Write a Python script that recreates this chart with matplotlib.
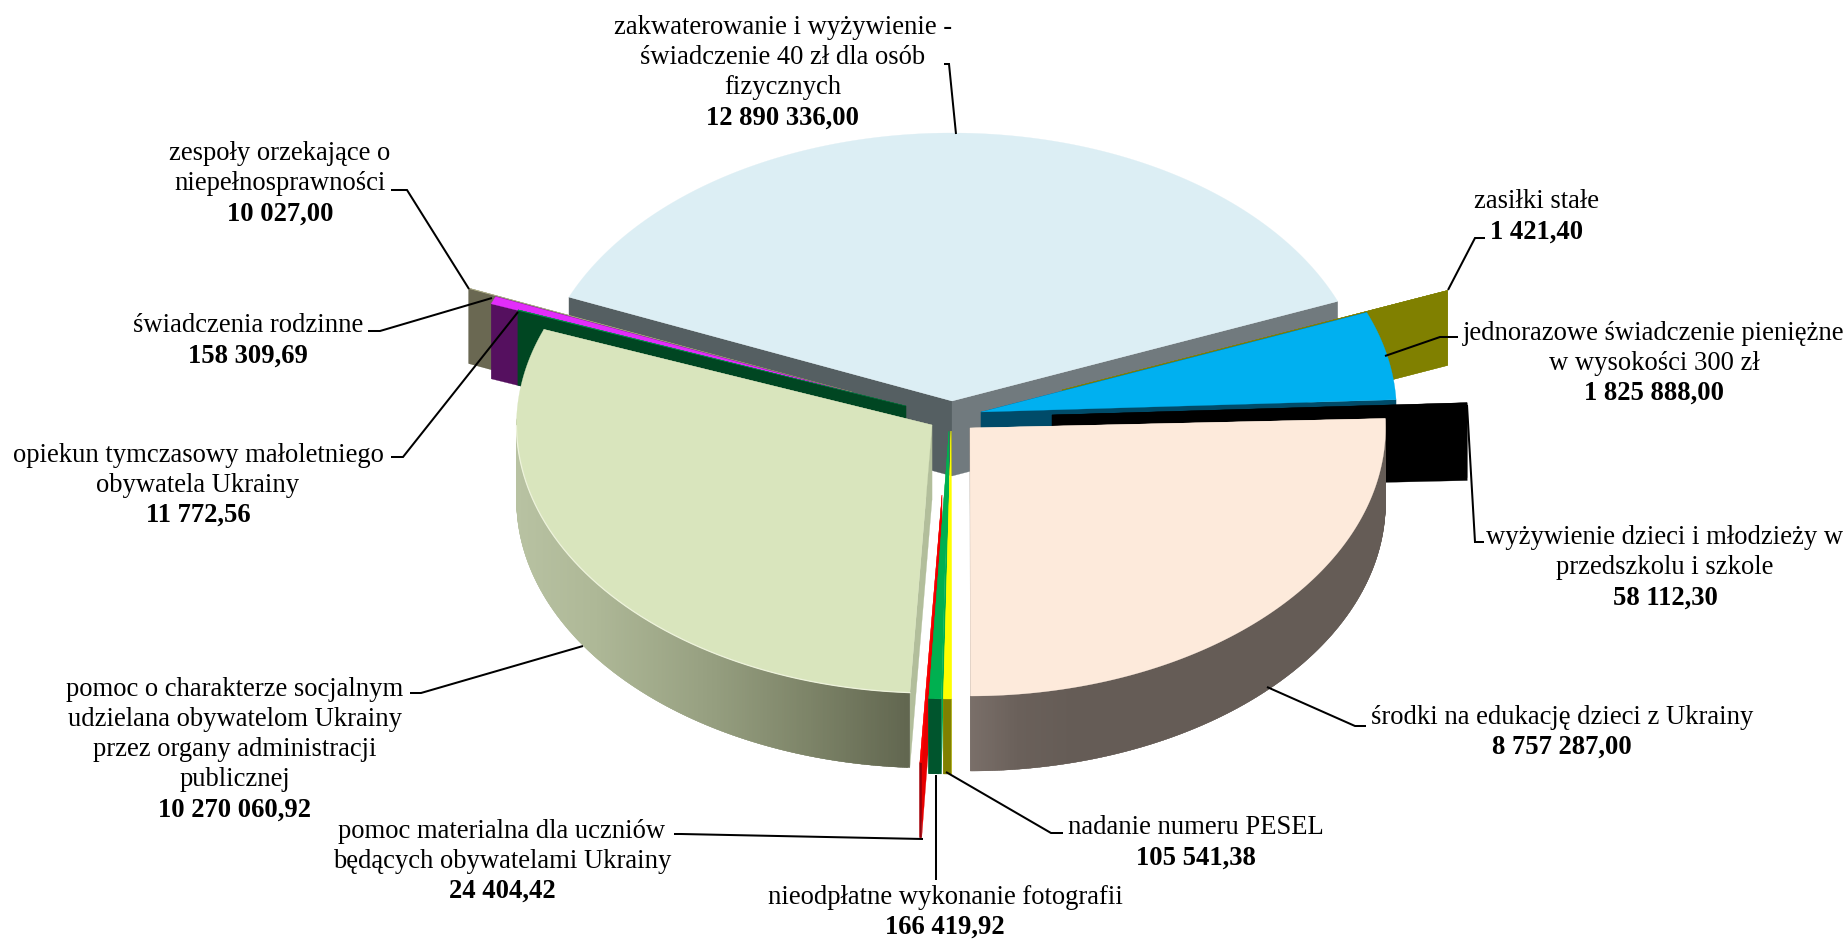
import numpy as np
import matplotlib
matplotlib.use("Agg")
import matplotlib.pyplot as plt
from matplotlib.patches import Polygon
from matplotlib.colors import LinearSegmentedColormap

plt.rcParams['font.family'] = ['Liberation Serif', 'DejaVu Serif']

# ---------- data ----------
categories = [
    "zakwaterowanie", "zasilki", "jednorazowe", "wyzywienie", "srodki", "pesel",
    "fotografie", "materialna", "socjalna", "opiekun", "rodzinne", "zespoly",
]
values = [
    12890336.00, 1421.40, 1825888.00, 58112.30, 8757287.00, 105541.38,
    166419.92, 24404.42, 10270060.92, 11772.56, 158309.69, 10027.00,
]
label_lines = [
    ["zakwaterowanie i wyżywienie -", "świadczenie 40 zł dla osób", "fizycznych"],
    ["zasiłki stałe"],
    ["jednorazowe świadczenie pieniężne", "w wysokości 300 zł"],
    ["wyżywienie dzieci i młodzieży w", "przedszkolu i szkole"],
    ["środki na edukację dzieci z Ukrainy"],
    ["nadanie numeru PESEL"],
    ["nieodpłatne wykonanie fotografii"],
    ["pomoc materialna dla uczniów", "będących obywatelami Ukrainy"],
    ["pomoc o charakterze socjalnym", "udzielana obywatelom Ukrainy",
     "przez organy administracji", "publicznej"],
    ["opiekun tymczasowy małoletniego", "obywatela Ukrainy"],
    ["świadczenia rodzinne"],
    ["zespoły orzekające o", "niepełnosprawności"],
]

# ---------- style / layout (pixels of the 1848x939 canvas) ----------
W, H = 1848, 939
RX, RY, DEPTH = 415.5, 268.0, 75.0
START = 157.2
APEX = [(952, 401), (1062, 390), (981, 412), (1052, 415), (970, 428), (951, 431),
        (949, 431), (942, 495), (932, 425), (906, 406), (879, 400), (852, 392)]
TOP = ["#DCEEF4", "#808000", "#00B0F0", "#000000", "#FDEADB", "#FFFF00",
       "#00B050", "#FF0000", "#D9E5BD", "#00A050", "#E22DFA", "#B4B48C"]
# radial wall at the clockwise-first edge, radial wall at the clockwise-last edge, outer wall
EDGE_A = ["#555F62", "#808000", "#004B69", "#000000", "#655C56", "#FFFF00",
          "#00B050", "#E80000", "#B2BE9B", "#004622", "#55105F", "#6A6852"]
EDGE_B = ["#717A7E", "#808000", "#004B69", "#000000", "#FDEADB", "#FFFF00",
          "#00B050", "#E80000", "#B2BE9B", "#004622", "#55105F", "#6A6852"]
OUTER = [None, "#808000", "#004B69", "#000000", None, "#808000",
         "#00552D", "#96000A", None, "#004622", "#55105F", "#6A6852"]
WALL = {
    4: [(0.0, "#7A6F69"), (0.12, "#6A605A"), (0.25, "#655C56"), (1.0, "#655C56")],
    8: [(0.0, "#B8C2A2"), (0.2, "#AEB897"), (0.5, "#969F80"), (0.75, "#7D8468"), (1.0, "#626750")],
}
DRAW_ORDER = [0, 11, 10, 9, 8, 1, 2, 3, 4, 7, 6, 5]
LABEL_X = [783, 1537, 1654, 1665, 1562, 1196, 945, 502, 235, 198, 248, 280]
LABEL_Y = [28, 202, 333, 538, 717, 828, 897, 831, 690, 455, 326, 154]
PITCH = 30
FS = 19.2
LEADERS = [
    [(944, 64), (949, 64), (956, 134)],
    [(1448, 290), (1475, 238), (1485, 238)],
    [(1385, 356), (1440, 337), (1458, 337)],
    [(1467, 405), (1475, 542), (1484, 542)],
    [(1267, 687), (1355, 726), (1366, 726)],
    [(946, 772), (1051, 833), (1063, 833)],
    [(936, 775), (936, 880)],
    [(923, 839), (681, 834), (674, 834)],
    [(583, 646), (421, 693), (410, 693)],
    [(518, 312), (403, 457), (391, 457)],
    [(492, 298), (380, 331), (368, 331)],
    [(469, 289), (407, 190), (391, 190)],
]


def polish(v):
    whole, frac = f"{v:.2f}".split(".")
    return f"{int(whole):,}".replace(",", " ") + "," + frac


fig = plt.figure(figsize=(W / 100, H / 100), dpi=100, facecolor="white")
ax = fig.add_axes([0, 0, 1, 1])
ax.set_xlim(0, W)
ax.set_ylim(H, 0)
ax.axis("off")

vals = np.asarray(values, dtype=float)
sweeps = vals / vals.sum() * 360.0
ends = START - np.cumsum(sweeps)
starts = np.concatenate([[START], ends[:-1]])


def rim(cx, cy, deg):
    t = np.radians(deg)
    return cx + RX * np.cos(t), cy - RY * np.sin(t)


def quad(pts, color, z):
    ax.add_patch(Polygon(pts, closed=True, facecolor=color, edgecolor=color,
                         linewidth=0.2, zorder=z))


z = 1
for i in DRAW_ORDER:
    cx, cy = APEX[i]
    a0, a1 = starts[i], ends[i]
    n = max(int(abs(a0 - a1) * 4), 3)
    arc = np.linspace(a0, a1, n)
    xs, ys = rim(cx, cy, arc)

    # radial walls
    for a, c in ((a0, EDGE_B[i]), (a1, EDGE_A[i])):
        if i == 0:  # the wedge's two visible cut faces
            c = EDGE_B[i] if a == a1 else EDGE_A[i]
        rx_, ry_ = rim(cx, cy, a)
        quad([(cx, cy), (rx_, ry_), (rx_, ry_ + DEPTH), (cx, cy + DEPTH)], c, z)
    z += 1

    # outer wall, strip by strip; each strip overlaps the next so no seams show
    lo, hi = (cx, cx + RX) if i == 4 else (cx - RX, cx - 24)
    cmap = LinearSegmentedColormap.from_list("w", WALL[i]) if i in WALL else None
    for k in range(n - 1):
        m = min(k + 2, n - 1)
        if np.sin(np.radians((arc[k] + arc[m]) / 2)) > 0.02:
            continue
        if cmap is not None:
            col = cmap(np.clip((xs[k] - lo) / (hi - lo), 0, 1))
        elif OUTER[i] is not None:
            col = OUTER[i]
        else:
            continue
        quad([(xs[k], ys[k]), (xs[m], ys[m]),
              (xs[m], ys[m] + DEPTH), (xs[k], ys[k] + DEPTH)], col, z)
        z += 1

    # top face
    quad([(cx, cy)] + list(zip(xs, ys)), TOP[i], z)
    z += 1
    if i == 8:
        mask = np.sin(np.radians(arc)) < 0
        ax.plot(xs[mask], ys[mask], color="#EEF3DC", lw=0.9, zorder=z)
        z += 1

# leader lines
for seg in LEADERS:
    ax.plot([p[0] for p in seg], [p[1] for p in seg], color="black", lw=1.45,
            solid_capstyle="butt", solid_joinstyle="miter", zorder=5000)

# labels
for lines, v, lx, ly in zip(label_lines, values, LABEL_X, LABEL_Y):
    for j, line in enumerate(lines):
        ax.text(lx, ly + j * PITCH, line, ha="center", va="center", fontsize=FS,
                color="black", zorder=5001)
    ax.text(lx, ly + len(lines) * PITCH, polish(v), ha="center", va="center",
            fontsize=FS, fontweight="bold", color="black", zorder=5001)

fig.savefig("out.png", dpi=100, facecolor="white")
